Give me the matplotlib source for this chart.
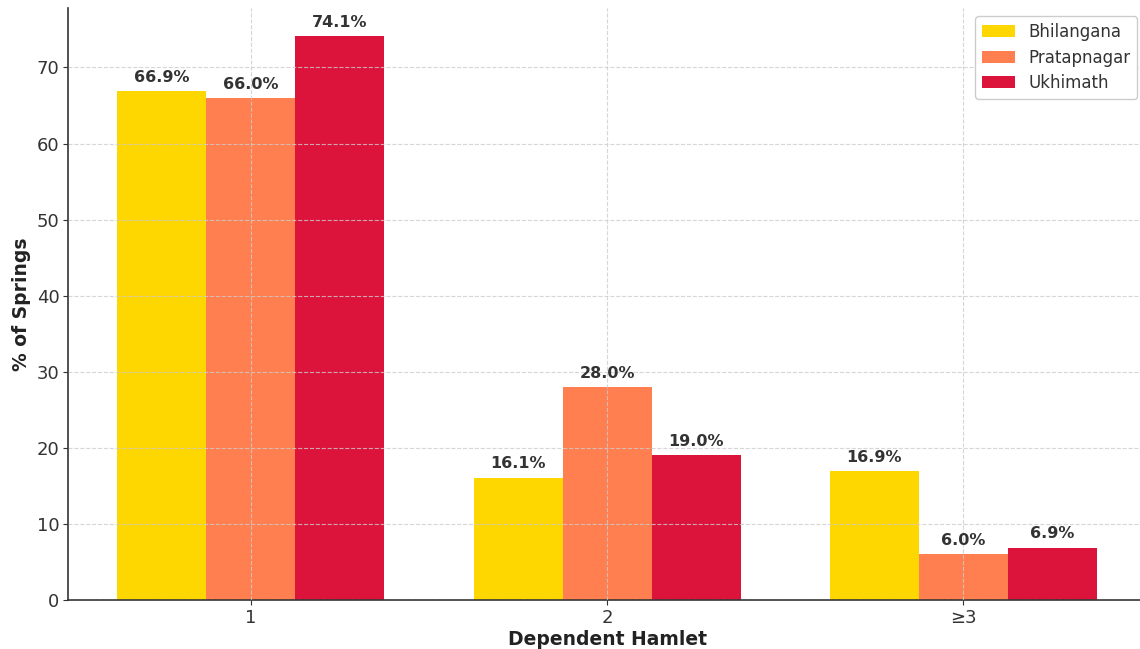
import numpy as np
import matplotlib.pyplot as plt

categories = ["1", "2", "≥3"]
bhilangana = [66.9, 16.1, 16.9]
pratapnagar = [66.0, 28.0, 6.0]
ukhimath = [74.1, 19.0, 6.9]

series = [("Bhilangana", bhilangana, "#FFD700"),
          ("Pratapnagar", pratapnagar, "#FF7F50"),
          ("Ukhimath", ukhimath, "#DC143C")]

fig = plt.figure(figsize=(11.4, 6.49), dpi=100)
ax = fig.add_axes([0.06, 0.0755, 0.945, 0.912])

x = np.arange(len(categories))
width = 0.25
for i, (name, vals, color) in enumerate(series):
    bars = ax.bar(x + (i - 1) * width, vals, width, label=name, color=color)
    for b, v in zip(bars, vals):
        ax.text(b.get_x() + b.get_width() / 2, v + 0.8, f"{v:.1f}%",
                ha="center", va="bottom", fontsize=11.5, fontweight="bold",
                color="#333333")

ax.set_xticks(x)
ax.set_xticklabels(categories)
ax.set_xlabel("Dependent Hamlet", fontsize=13.5, fontweight="bold",
              color="#222222", labelpad=2)
ax.set_ylabel("% of Springs", fontsize=13.5, fontweight="bold", color="#222222")
ax.tick_params(labelsize=13, colors="#333333", length=3.5, pad=3)
ax.set_axisbelow(False)
ax.grid(True, linestyle="--", color="#cccccc", linewidth=0.8, alpha=0.8)
for s in ["top", "right"]:
    ax.spines[s].set_visible(False)
for s in ["left", "bottom"]:
    ax.spines[s].set_color("#333333")
    ax.spines[s].set_linewidth(1.2)

leg = ax.legend(fontsize=12, loc="upper right", framealpha=1, edgecolor="#cccccc",
                labelspacing=0.45)
for t in leg.get_texts():
    t.set_color("#333333")

fig.savefig("out.png", dpi=100)
